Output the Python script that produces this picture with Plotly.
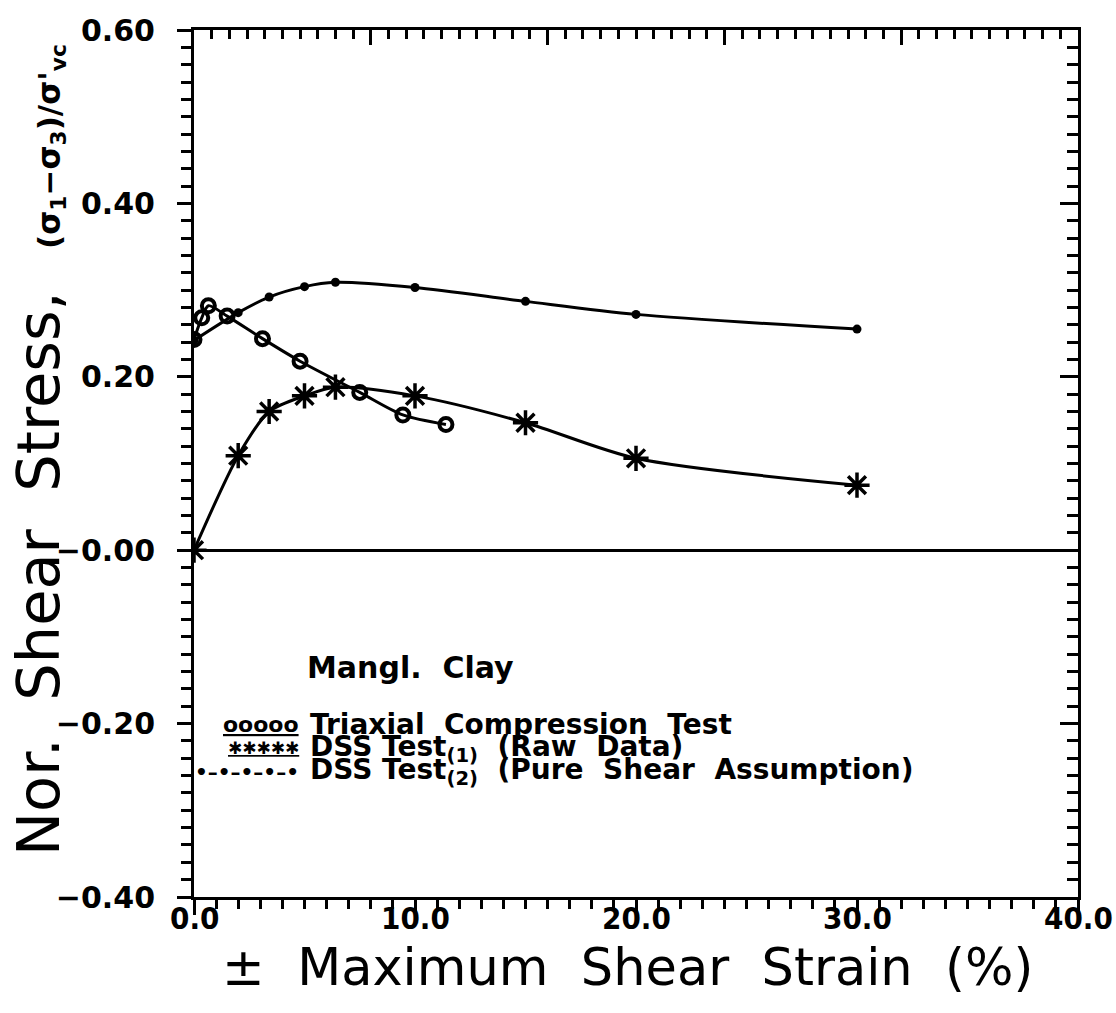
import plotly.graph_objects as go

# ---- data ----
tri_x = [0.0, 0.35, 0.65, 1.5, 3.1, 4.8, 7.5, 9.45, 11.4]
tri_y = [0.243, 0.268, 0.282, 0.270, 0.244, 0.218, 0.182, 0.156, 0.145]

dss1_x = [0.0, 2.0, 3.4, 5.0, 6.4, 10.0, 15.0, 20.0, 30.0]
dss1_y = [0.0, 0.109, 0.160, 0.178, 0.188, 0.178, 0.147, 0.106, 0.075]

dss2_x = [0.0, 2.0, 3.4, 5.0, 6.4, 10.0, 15.0, 20.0, 30.0]
dss2_y = [0.242, 0.274, 0.292, 0.304, 0.309, 0.303, 0.287, 0.272, 0.255]

x_tickvals = [0, 10, 20, 30, 40]
x_ticktext = ["0.0", "10.0", "20.0", "30.0", "40.0"]
y_tickvals = [-0.4, -0.2, 0.0, 0.2, 0.4, 0.6]
y_ticktext = ["\u22120.40", "\u22120.20", "\u22120.00", "0.20", "0.40", "0.60"]
top_tickvals = [0, 8, 16, 24, 32, 40]

NB = "\u00a0"
BLACK = "black"

fig = go.Figure()

fig.add_trace(go.Scatter(
    x=tri_x, y=tri_y, mode="lines+markers", name="Triaxial Compression Test",
    line=dict(color=BLACK, width=3, shape="spline", smoothing=0.8),
    marker=dict(symbol="circle-open", size=13, color=BLACK, line=dict(width=4, color=BLACK)),
    showlegend=False))

fig.add_trace(go.Scatter(
    x=dss1_x, y=dss1_y, mode="lines+markers", name="DSS Test(1) (Raw Data)",
    line=dict(color=BLACK, width=3, shape="spline", smoothing=0.8),
    marker=dict(symbol="asterisk-open", size=21, color=BLACK, line=dict(width=3.5, color=BLACK)),
    showlegend=False))

fig.add_trace(go.Scatter(
    x=dss2_x, y=dss2_y, mode="lines+markers", name="DSS Test(2) (Pure Shear Assumption)",
    line=dict(color=BLACK, width=3, shape="spline", smoothing=0.8),
    marker=dict(symbol="circle", size=9, color=BLACK),
    showlegend=False))

# empty trace so the mirrored axes (top / right) are drawn
fig.add_trace(go.Scatter(x=[], y=[], xaxis="x2", yaxis="y2", showlegend=False))

tick_font_y = dict(family="DejaVu Sans", size=30, color=BLACK, weight="bold")
tick_font_x = dict(family="DejaVu Sans Condensed, Liberation Sans Narrow, Liberation Sans", size=31, color=BLACK, weight="bold")

fig.update_layout(
    width=1116, height=1013,
    margin=dict(l=194, r=38, t=22, b=116),
    paper_bgcolor="white", plot_bgcolor="white",
    showlegend=False,
    xaxis=dict(
        range=[0, 40], showgrid=False, zeroline=False,
        showline=True, linecolor=BLACK, linewidth=3,
        tickmode="array", tickvals=x_tickvals, showticklabels=False,
        ticks="outside", ticklen=15, tickwidth=3, tickcolor=BLACK,
        minor=dict(dtick=1, ticks="outside", ticklen=9, tickwidth=3, tickcolor=BLACK, showgrid=False),
    ),
    xaxis2=dict(
        range=[0, 40], overlaying="x", side="top", anchor="y",
        showgrid=False, zeroline=False, showline=True, linecolor=BLACK, linewidth=3,
        tickmode="array", tickvals=top_tickvals, showticklabels=False,
        ticks="inside", ticklen=15, tickwidth=3, tickcolor=BLACK,
        minor=dict(dtick=0.8, ticks="inside", ticklen=9, tickwidth=3, tickcolor=BLACK, showgrid=False),
    ),
    yaxis=dict(
        range=[-0.4, 0.6], showgrid=False,
        zeroline=True, zerolinecolor=BLACK, zerolinewidth=3,
        showline=True, linecolor=BLACK, linewidth=3,
        tickmode="array", tickvals=y_tickvals, ticktext=y_ticktext,
        ticks="outside", ticklen=14, tickwidth=3, tickcolor=BLACK,
        tickfont=tick_font_y, ticklabelstandoff=16,
        minor=dict(dtick=0.02, ticks="outside", ticklen=10, tickwidth=3, tickcolor=BLACK, showgrid=False),
    ),
    yaxis2=dict(
        range=[-0.4, 0.6], overlaying="y", side="right", anchor="x",
        showgrid=False, zeroline=False, showline=True, linecolor=BLACK, linewidth=3,
        tickmode="array", tickvals=y_tickvals, showticklabels=False,
        ticks="inside", ticklen=18, tickwidth=3, tickcolor=BLACK,
        minor=dict(dtick=0.02, ticks="inside", ticklen=11, tickwidth=3, tickcolor=BLACK, showgrid=False),
    ),
)

# x tick labels (placed tight under the ticks, as in the reference)
for v, t in zip(x_tickvals, x_ticktext):
    fig.add_annotation(xref="x", yref="paper", x=v, y=-0.0245, xanchor="center", yanchor="middle",
                       text=t, showarrow=False, font=tick_font_x)

# axis titles as annotations
fig.add_annotation(
    xref="paper", yref="paper", x=0.49, y=-0.081, xanchor="center", yanchor="middle",
    text=f"\u00b1{NB}{NB}Maximum{NB}{NB}Shear{NB}{NB}Strain{NB}{NB}(%)",
    showarrow=False, font=dict(family="DejaVu Sans", size=51, color=BLACK))

fig.add_annotation(
    xref="paper", yref="paper", x=-0.176, y=0.373, xanchor="center", yanchor="middle",
    textangle=-90,
    text=f"Nor.{NB}{NB}Shear{NB}{NB}Stress,",
    showarrow=False, font=dict(family="DejaVu Sans", size=59, color=BLACK))

fig.add_annotation(
    xref="paper", yref="paper", x=-0.162, y=0.866, xanchor="center", yanchor="middle",
    textangle=-90,
    text="(\u03c3<sub>1</sub>\u2212\u03c3<sub>3</sub>)/\u03c3'<sub>vc</sub>",
    showarrow=False, font=dict(family="DejaVu Sans", size=31, color=BLACK, weight="bold"))

# in-plot legend
leg_font = dict(family="DejaVu Sans", size=28, color=BLACK, weight="bold")
fig.add_annotation(xref="x", yref="y", x=5.0, y=-0.135, xanchor="left", yanchor="middle",
                   text="Mangl.\u00a0\u00a0Clay", showarrow=False,
                   font=dict(family="DejaVu Sans", size=30, color=BLACK, weight="bold"))

rows_text = [
    f"Triaxial{NB}{NB}Compression{NB}{NB}Test",
    f"DSS{NB}Test<sub>(1)</sub>{NB}{NB}(Raw{NB}{NB}Data)",
    f"DSS{NB}Test<sub>(2)</sub>{NB}{NB}(Pure{NB}{NB}Shear{NB}{NB}Assumption)",
]
rows_sample = [
    "<u>ooooo</u>",
    "<u>\u2731\u2731\u2731\u2731\u2731</u>",
    "\u2022\u2013\u2022\u2013\u2022\u2013\u2022\u2013\u2022",
]
sample_sizes = [22, 17, 20]
rows_y = [-0.2015, -0.2285, -0.2555]
for t, s, sz, yy in zip(rows_text, rows_sample, sample_sizes, rows_y):
    fig.add_annotation(xref="x", yref="y", x=5.15, y=yy, xanchor="left", yanchor="middle",
                       text=t, showarrow=False, font=leg_font)
    fig.add_annotation(xref="x", yref="y", x=4.85, y=yy, xanchor="right", yanchor="middle",
                       text=s, showarrow=False,
                       font=dict(family="DejaVu Sans", size=sz, color=BLACK, weight="bold"))

fig.write_html("out.html")
